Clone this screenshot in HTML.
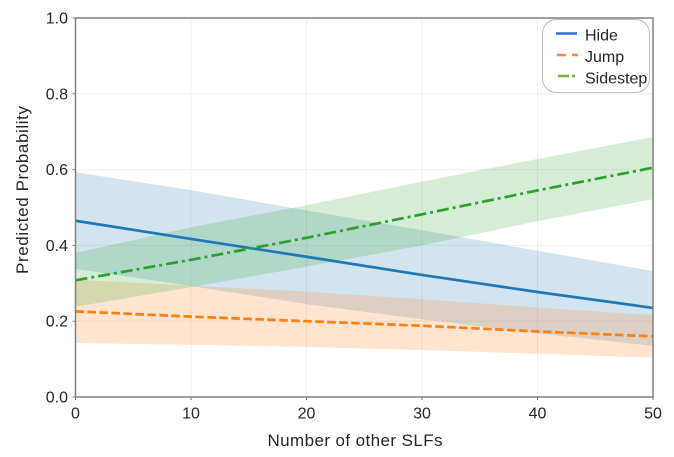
<!DOCTYPE html>
<html>
<head>
<meta charset="utf-8">
<style>
html,body{margin:0;padding:0;background:#fff;}
svg{display:block;filter:blur(0.35px);}
text{fill:#262626;font-family:"Liberation Sans",sans-serif;}
</style>
</head>
<body>
<svg id="chart" width="674" height="457" viewBox="0 0 674 457" xmlns="http://www.w3.org/2000/svg">
<g id="grid"></g>
<g id="bands"></g>
<g id="lines"></g>
<g id="axes"></g>
<text x="355" y="446" text-anchor="middle" font-size="17" textLength="175">Number of other SLFs</text>
<text transform="translate(28,190) rotate(-90)" text-anchor="middle" font-size="17" textLength="168">Predicted Probability</text>
<g>
<rect x="542.5" y="19.5" width="107" height="73" rx="14" ry="14" fill="#fff" fill-opacity="0.9" stroke="#bdbdbd" stroke-width="1"/>
<line x1="556" y1="33.5" x2="577" y2="33.5" stroke="#3b6fe0" stroke-width="2.5"/>
<text x="585" y="40.5" font-size="16">Hide</text>
<line x1="557" y1="55" x2="578" y2="55" stroke="#f58a3c" stroke-width="2.5" stroke-dasharray="9,6"/>
<text x="585" y="62" font-size="16">Jump</text>
<line x1="558" y1="76" x2="578" y2="76" stroke="#6db33f" stroke-width="2.5" stroke-dasharray="11,3,3,3"/>
<text x="585" y="83.5" font-size="16">Sidestep</text>
</g>
</svg>
<script>
const xValues = [0, 10, 20, 30, 40, 50];
const xTicks = [0, 10, 20, 30, 40, 50];
const yTicks = [0.0, 0.2, 0.4, 0.6, 0.8, 1.0];
const hideMean = [0.465, 0.417, 0.370, 0.322, 0.277, 0.235];
const hideUpper = [0.593, 0.546, 0.492, 0.440, 0.386, 0.332];
const hideLower = [0.338, 0.293, 0.245, 0.205, 0.168, 0.135];
const jumpMean = [0.226, 0.212, 0.200, 0.188, 0.173, 0.160];
const jumpUpper = [0.309, 0.294, 0.278, 0.258, 0.236, 0.216];
const jumpLower = [0.142, 0.138, 0.132, 0.124, 0.114, 0.104];
const sidestepMean = [0.308, 0.362, 0.420, 0.482, 0.545, 0.605];
const sidestepUpper = [0.380, 0.448, 0.506, 0.568, 0.628, 0.686];
const sidestepLower = [0.238, 0.290, 0.344, 0.400, 0.464, 0.522];

const NS = 'http://www.w3.org/2000/svg';
const xScale = v => 75.5 + (v / 50) * 577.5;
const yScale = v => 397 - v * 379;
function mk(parent, tag, attrs) {
  const el = document.createElementNS(NS, tag);
  for (const k in attrs) el.setAttribute(k, attrs[k]);
  parent.appendChild(el);
  return el;
}
const grid = document.getElementById('grid');
const axes = document.getElementById('axes');
const bands = document.getElementById('bands');
const lines = document.getElementById('lines');

xTicks.forEach(t => {
  const g = mk(grid, 'line', {x1: xScale(t), x2: xScale(t), y1: yScale(0), y2: yScale(1), stroke: '#efefef', 'stroke-width': 1});
  
  
  const m = mk(axes, 'line', {x1: xScale(t), x2: xScale(t), y1: yScale(0), y2: yScale(0) + 3, stroke: '#777', 'stroke-width': 1});
  
  
  const l = mk(axes, 'text', {x: xScale(t), y: 418.5, 'text-anchor': 'middle', 'font-size': 16});
  
  
  l.textContent = String(t);
});
yTicks.forEach(t => {
  const g = mk(grid, 'line', {x1: xScale(0), x2: xScale(50), y1: yScale(t), y2: yScale(t), stroke: '#efefef', 'stroke-width': 1});
  
  
  const m = mk(axes, 'line', {x1: xScale(0) - 3, x2: xScale(0), y1: yScale(t), y2: yScale(t), stroke: '#777', 'stroke-width': 1});
  
  
  const l = mk(axes, 'text', {x: 68, y: yScale(t) + 5.5, 'text-anchor': 'end', 'font-size': 16});
  
  
  l.textContent = t.toFixed(1);
});

function bandPoints(up, lo) {
  const a = xValues.map((x, i) => xScale(x) + ',' + yScale(up[i]));
  const b = xValues.map((x, i) => xScale(x) + ',' + yScale(lo[i])).reverse();
  return a.concat(b).join(' ');
}
function linePoints(vals) {
  return xValues.map((x, i) => xScale(x) + ',' + yScale(vals[i])).join(' ');
}

const hb = mk(bands, 'polygon', {points: bandPoints(hideUpper, hideLower), fill: '#1f77b4', 'fill-opacity': 0.2});


const jb = mk(bands, 'polygon', {points: bandPoints(jumpUpper, jumpLower), fill: '#ff7f0e', 'fill-opacity': 0.2});


const sb = mk(bands, 'polygon', {points: bandPoints(sidestepUpper, sidestepLower), fill: '#2ca02c', 'fill-opacity': 0.2});



const hl = mk(lines, 'polyline', {points: linePoints(hideMean), fill: 'none', stroke: '#1f77b4', 'stroke-width': 2.7});


const jl = mk(lines, 'polyline', {points: linePoints(jumpMean), fill: 'none', stroke: '#ff7f0e', 'stroke-width': 2.7, 'stroke-dasharray': '8.5,3.5'});


const sl = mk(lines, 'polyline', {points: linePoints(sidestepMean), fill: 'none', stroke: '#2ca02c', 'stroke-width': 2.7, 'stroke-dasharray': '12,4,3,4'});



const frame = mk(axes, 'rect', {x: xScale(0), y: yScale(1), width: xScale(50) - xScale(0), height: yScale(0) - yScale(1), fill: 'none', stroke: '#808080', 'stroke-width': 1.5});


</script>
</body>
</html>
